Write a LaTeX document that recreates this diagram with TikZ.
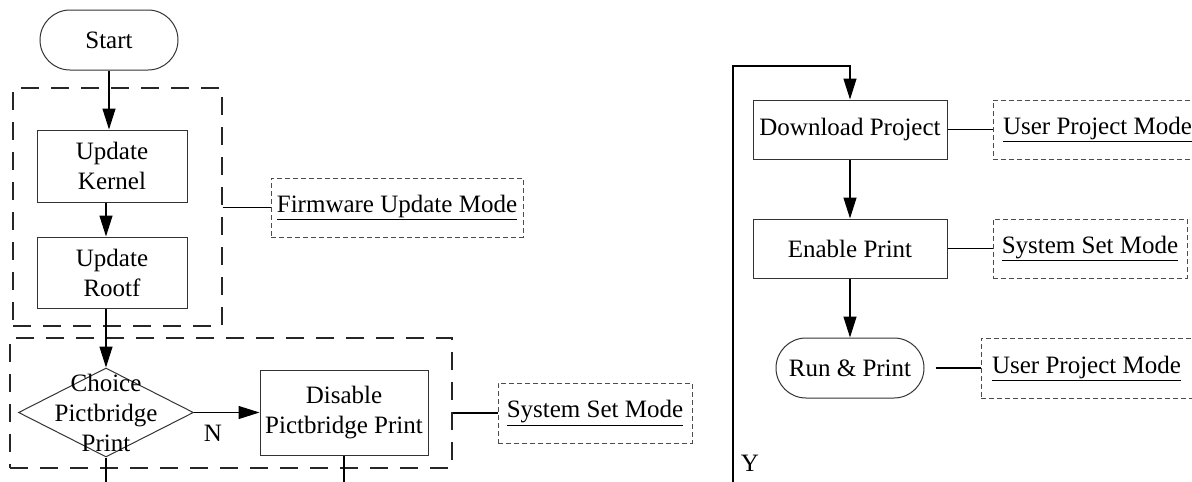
\documentclass[tikz,border=0pt]{standalone}
\usepackage{fontspec}
\setmainfont{Liberation Serif}
\usetikzlibrary{
  positioning,
  arrows.meta,
  shapes.geometric
}

\tikzset{
  every node/.style={font=\fontsize{25}{30}\selectfont, inner sep=0pt},
  proc/.style={draw=black!80, line width=1pt, align=center},
  term/.style={draw=black!80, line width=1pt, rounded corners=30pt, minimum height=60pt},
  decide/.style={draw=black!80, line width=1pt, diamond},
  modebox/.style={draw=black!70, line width=0.9pt, dash pattern=on 5pt off 3pt},
  group/.style={draw=black!85, line width=1.3pt, dash pattern=on 18pt off 12pt},
  link/.style={line width=1.2pt},
  arr/.style={line width=1.2pt, -{Triangle[length=21pt,width=13pt]}}
}

\begin{document}
\begin{tikzpicture}[x=1pt, y=-1pt]
  \useasboundingbox (0,0) rectangle (1192,482);
  \clip (0,0) rectangle (1192,482);

  % 左列
  \node[term, minimum width=138pt] (start) at (109,40) {Start};
  \node[proc, minimum width=150pt, minimum height=72pt] (kernel) at (112,166) {Update\\Kernel};
  \node[proc, minimum width=150pt, minimum height=71pt] (rootf) at (112,272.5) {Update\\Rootf};
  \node[decide, minimum width=175pt, minimum height=89pt] (choice) at (106,412.5) {};
  \node[align=center] (choicetxt) at (choice) {Choice\\Pictbridge\\Print};
  \node[proc, minimum width=168pt, minimum height=85pt] (disable) at (344,412.5) {Disable\\Pictbridge Print};
  \node (nlab) at (213,433) {N};

  % 分组虚线框
  \node[group, minimum width=209pt, minimum height=238pt] (grp1) at (117.5,207) {};
  \node[group, minimum width=442pt, minimum height=130pt] (grp2) at (231,403) {};
  \node[modebox, minimum width=252pt, minimum height=59pt] (fwmode) at (397,207.5) {\underline{Firmware Update Mode}};
  \node[modebox, minimum width=194pt, minimum height=60pt] (sysmode) at (595,413) {\underline{System Set Mode}};

  % 右列
  \node[proc, minimum width=194pt, minimum height=59pt] (download) at (850,129.5) {Download Project};
  \node[proc, minimum width=194pt, minimum height=59pt] (enable) at (850,248.5) {Enable Print};
  \node[term, minimum width=148pt] (run) at (850,368) {Run \& Print};
  \node[modebox, minimum width=209pt, minimum height=59pt] (upmode) at (1097.5,129.5) {\underline{User Project Mode}};
  \node[modebox, minimum width=194pt, minimum height=59pt] (sysmode2) at (1090,248.5) {\underline{System Set Mode}};
  \node[modebox, minimum width=211pt, minimum height=60pt] (upmode2) at (1086.5,368) {\underline{User Project Mode}};
  \node (ylab) at (750,463) {Y};

  \coordinate (cbot) at (106,490);
  \coordinate (dbot) at (344,490);
  \coordinate (ybot) at (733,490);
  \coordinate (ytop) at (733,66);

  % 连线
  \draw[arr] (start.south) -- (start.south |- kernel.north);
  \draw[arr] (choice.north |- kernel.south) -- (choice.north |- rootf.north);
  \draw[arr] (choice.north |- rootf.south) -- (choice.north);
  \draw[arr] (choice.east) -- (disable.west);
  \draw[link] (choice.south) -- (cbot);
  \draw[link] (disable.south) -- (dbot);
  \draw[link] (grp1.east |- fwmode.west) -- (fwmode.west);
  \draw[link] (grp2.east |- sysmode.west) -- (sysmode.west);

  \draw[arr] (ybot) -- (ytop) -| (download.north);
  \draw[arr] (download) -- (enable);
  \draw[arr] (enable) -- (run);
  \draw[link] (download.east) -- (upmode.west);
  \draw[link] (enable.east) -- (sysmode2.west);
  \draw[link] ([xshift=11pt]run.east) -- (upmode2.west);
\end{tikzpicture}
\end{document}
